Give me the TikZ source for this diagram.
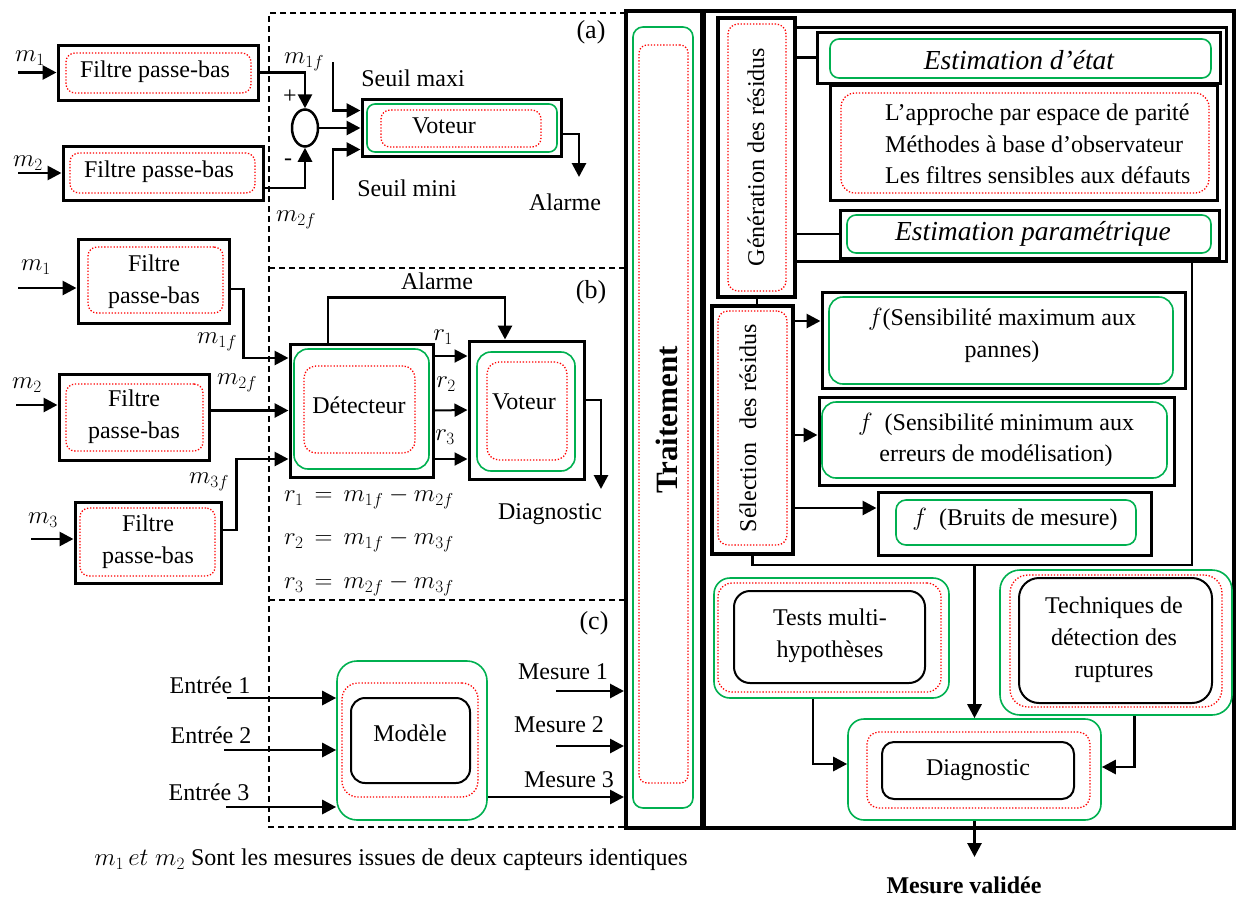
\documentclass[tikz,border=0pt]{standalone}
\usepackage{fontspec}
\setmainfont{Liberation Serif}
\usetikzlibrary{arrows.meta,shapes.geometric,fit,calc}
\definecolor{okgreen}{RGB}{0,176,80}
\definecolor{dotred}{RGB}{255,0,0}

\tikzset{
  every node/.style={font=\fontsize{24}{32}\selectfont, inner sep=0pt},
  blk/.style={draw, line width=3pt},
  heavy/.style={draw, line width=4pt},
  grn/.style={draw=okgreen, line width=1.6pt, rounded corners=#1},
  grn/.default=9pt,
  dotbox/.style={draw=dotred, line width=1.3pt, dash pattern=on 1.3pt off 1.8pt, rounded corners=#1},
  dotbox/.default=9pt,
  inbox/.style={draw, line width=2pt, rounded corners=#1},
  inbox/.default=14pt,
  zone/.style={draw, line width=1.5pt, dash pattern=on 6pt off 4pt},
  arr/.style={line width=2.8pt, -{Triangle[length=14pt,width=14pt]}},
  tarr/.style={line width=2pt, -{Triangle[length=13pt,width=13pt]}},
  link/.style={line width=2.8pt},
  tag/.style={font=\fontsize{26}{30}\selectfont},
  method/.style={font=\fontsize{27.5}{32}\selectfont\itshape},
}

\begin{document}
\begin{tikzpicture}[x=1pt, y=-1pt]
\useasboundingbox (0,0) rectangle (1237,898);

% ---------- dashed frame split into zones (a), (b), (c)
\draw[zone] (626,13) -| (269,827) -- (626,827);
\draw[zone] (269,268) -- (626,268);
\draw[zone] (269,600) -- (626,600);
\node[tag] (tagA) at (591,32) {(a)};
\node[tag] (tagB) at (591,292) {(b)};
\node[tag] (tagC) at (594,623) {(c)};

% ---------- (a) two filters, comparator and voter
\node[blk, fit={(58,45)(258,100)}] (fa1) {};
\node[dotbox, fit={(66,53)(251,93)}] (fa1r) {};
\node (fa1t) at (155,72) {Filtre passe-bas};
\node[blk, fit={(63,146)(263,200)}] (fa2) {};
\node[dotbox, fit={(70,153)(255,193)}] (fa2r) {};
\node (fa2t) at (159,172) {Filtre passe-bas};

\node (lma1) at (30,58) {$m_1$};
\node (lma2) at (28,163) {$m_2$};
\coordinate (ina1) at (18,72.5);
\coordinate (ina2) at (18,173);
\draw[arr] (ina1) -- (fa1.west);
\draw[arr] (ina2) -- (fa2.west);

\node[draw, ellipse, line width=2.5pt, minimum width=26pt, minimum height=37pt] (sum) at (305,128) {};
\node (plus) at (290,97) {+};
\node (minus) at (288,162) {-};
\node (lma1f) at (304,62) {$m_{1f}$};
\node (lma2f) at (296,220) {$m_{2f}$};

\node[blk, fit={(362,99)(561,156)}] (va) {};
\node[grn=8pt, fit={(367,104)(557,152)}] (vag) {};
\node[dotbox, fit={(381,110)(541,147)}] (var) {};
\node (vat) at (444,126) {Voteur};

\draw[arr] (fa1.east) -| (sum.north);
\draw[arr] ([yshift=-15pt]fa2.east) -| (sum.south);
\draw[arr] (sum.east) -- (sum.east -| va.west);
\coordinate (smaxTop) at (333,62);
\coordinate (sminBot) at (333,200);
\draw[arr] (smaxTop) |- ([yshift=17pt]va.west);
\draw[arr] (sminBot) |- ([yshift=-22pt]va.west);
\node (smaxt) at (413,78) {Seuil maxi};
\node (smint) at (407,188) {Seuil mini};
\coordinate (alarmA) at (579,177);
\draw[arr] ([yshift=-6.5pt]va.east) -| (alarmA);
\node (alarmAt) at (565,202) {Alarme};

% ---------- (b) three filters, detector and voter
\node[blk, fit={(78,239)(229,323)}] (fb1) {};
\node[dotbox, fit={(88,247)(223,313)}] (fb1r) {};
\node[align=center] (fb1t) at (154,282) {Filtre\\passe-bas};
\node[blk, fit={(59,374)(209,460)}] (fb2) {};
\node[dotbox, fit={(66,384)(203,451)}] (fb2r) {};
\node[align=center] (fb2t) at (134,417) {Filtre\\passe-bas};
\node[blk, fit={(75,502)(221,583)}] (fb3) {};
\node[dotbox, fit={(80,508)(215,576)}] (fb3r) {};
\node[align=center] (fb3t) at (148,542) {Filtre\\passe-bas};

\node (lmb1) at (36,267) {$m_1$};
\node (lmb2) at (27,385) {$m_2$};
\node (lmb3) at (43,520) {$m_3$};
\coordinate (inb1) at (18,288);
\coordinate (inb2) at (16,405);
\coordinate (inb3) at (31,539);
\draw[arr] (inb1) -- (inb1 -| fb1.west);
\draw[arr] (inb2) -- (inb2 -| fb2.west);
\draw[arr] (inb3) -- (inb3 -| fb3.west);

\node[blk, fit={(290,344)(433,477)}] (det) {};
\node[grn=14pt, fit={(294,349)(429,469)}] (detg) {};
\node[dotbox=12pt, fit={(304,366)(415,453)}] (detr) {};
\node (dett) at (359,405) {Détecteur};

\draw[arr] ([yshift=-8pt]fb1.east) -- ++(13,0) |- ([yshift=52.5pt]det.west);
\draw[arr] ([yshift=6.5pt]fb2.east) -- (det.west);
\draw[arr] ([yshift=12.5pt]fb3.east) -- ++(14,0) |- ([yshift=-48.5pt]det.west);
\node (lmb1f) at (217,342) {$m_{1f}$};
\node (lmb2f) at (237,383) {$m_{2f}$};
\node (lmb3f) at (209,482) {$m_{3f}$};

\node[blk, fit={(469,341)(584,479)}] (vb) {};
\node[grn=14pt, fit={(477,352)(575,471)}] (vbg) {};
\node[dotbox=12pt, fit={(487,362)(567,460)}] (vbr) {};
\node (vbt) at (524,402) {Voteur};

\draw[tarr] ([yshift=54.5pt]det.east) -- ([yshift=54pt]vb.west);
\draw[tarr] (det.east) -- (vb.west);
\draw[tarr] ([yshift=-48.5pt]det.east) -- ([yshift=-49pt]vb.west);
\node (r1) at (443,337) {$r_1$};
\node (r2) at (446,384) {$r_2$};
\node (r3) at (445,437) {$r_3$};

\draw[arr] ([xshift=-33.5pt]det.north) -- ++(0,-45) -| ([xshift=-21.5pt]vb.north);
\node (alarmBt) at (437,281) {Alarme};
\coordinate (diagB) at (601,489);
\draw[arr] ([yshift=10pt]vb.east) -| (diagB);
\node (diagBt) at (550,514) {Diagnostic};

\node[anchor=west] (eq1) at (284,498) {$r_1\,=\,m_{1f}-m_{2f}$};
\node[anchor=west] (eq2) at (284,541) {$r_2\,=\,m_{1f}-m_{3f}$};
\node[anchor=west] (eq3) at (284,585) {$r_3\,=\,m_{2f}-m_{3f}$};

% ---------- (c) model based redundancy
\node[grn=20pt, fit={(337,661)(487,820)}] (mg) {};
\node[dotbox=16pt, fit={(342,683)(478,797)}] (mr) {};
\node[inbox, fit={(351,698)(470,783)}] (mb) {};
\node (mt) at (410,733) {Modèle};

\coordinate (e1) at (227,698);
\coordinate (e2) at (224,750);
\coordinate (e3) at (226,807);
\draw[arr] (e1) -- (e1 -| mg.west);
\draw[arr] (e2) -- (e2 -| mg.west);
\draw[arr] (e3) -- (e3 -| mg.west);
\node (e1t) at (210,685) {Entrée 1};
\node (e2t) at (211,735) {Entrée 2};
\node (e3t) at (209,792) {Entrée 3};

% ---------- Traitement column
\node[heavy, fit={(626,10.5)(702,828)}] (trt) {};
\node[grn=10pt, fit={(633,27)(693,808)}] (trtg) {};
\node[dotbox=8pt, fit={(639,45)(688,783)}] (trtr) {};
\node[rotate=90, font=\fontsize{31}{36}\selectfont\bfseries] (trtt) at (667,420) {Traitement};

\coordinate (ms1) at (556,691);
\coordinate (ms2) at (556,746);
\path ([yshift=-56.5pt]mg.east) coordinate (ms3);
\draw[arr] (ms1) -- (ms1 -| trt.west);
\draw[arr] (ms2) -- (ms2 -| trt.west);
\draw[arr] (ms3) -- (ms3 -| trt.west);
\node (ms1t) at (563,672) {Mesure 1};
\node (ms2t) at (559,725) {Mesure 2};
\node (ms3t) at (569,780) {Mesure 3};

\node (note) at (391,860) {$m_1\,et\;m_2$ Sont les mesures issues de deux capteurs identiques};

% ---------- right block
\node[heavy, fit={(704,10.5)(1234,828)}] (rbox) {};

% residual generation
\node[blk, fit={(795,27)(1226,261)}] (genGrp) {};
\node[heavy, fill=white, fit={(718,18)(795,297)}] (gen) {};
\node[dotbox=10pt, fit={(728,24)(786,291)}] (genr) {};
\node[rotate=90] (gent) at (756,157) {Génération des résidus};

\node[blk, fit={(817,32.5)(1220,83)}] (estE) {};
\node[grn=9pt, fit={(830,39)(1211,78)}] (estEg) {};
\node[method] (estEt) at (1019,60) {Estimation d’état};

\node[blk, fit={(830,85)(1217,200)}] (lst) {};
\node[dotbox=14pt, fit={(841,93)(1209,193)}] (lstr) {};
\node[anchor=west, align=left, font=\fontsize{24}{31.5}\selectfont] (lstt) at (885,144)
  {L’approche par espace de parité\\Méthodes à base d’observateur\\Les filtres sensibles aux défauts};

\node[blk, fit={(840,210)(1219,258)}] (estP) {};
\node[grn=9pt, fit={(847,215)(1211,253)}] (estPg) {};
\node[method] (estPt) at (1033,234) {Estimation paramétrique};

\draw[link] (gen.east |- estE.west) -- (estE.west);
\draw[link] (gen.east |- estP.west) -- (estP.west);

% residual selection
\node[heavy, fit={(712,306)(793,554)}] (sel) {};
\node[dotbox=10pt, fit={(718,311)(787,545)}] (selr) {};
\node[rotate=90] (selt) at (748,428) {Sélection\hspace{0.3em} des résidus};
\draw[line width=2pt] (gen.south) -- (gen.south |- sel.north);

\coordinate (selBR) at (1192,565);
\coordinate (selTR) at (1192,261);
\draw[link] (sel.south) |- (selBR) -- (selTR);

\node[blk, fit={(822,292)(1185,388)}] (smx) {};
\node[grn=14pt, fit={(829,297)(1173,384)}] (smxg) {};
\node[align=center] (smxt) at (1002,335) {$f$(Sensibilité maximum aux\\pannes)};

\node[blk, fit={(819,397)(1174,485)}] (smn) {};
\node[grn=14pt, fit={(822,402)(1167,478)}] (smng) {};
\node[align=center, font=\fontsize{24}{31}\selectfont] (smnt) at (996,440) {$f$\ \ (Sensibilité minimum aux\\erreurs de modélisation)};

\node[blk, fit={(878,492)(1151,555)}] (brt) {};
\node[grn=10pt, fit={(896,500)(1136,545)}] (brtg) {};
\node (brtt) at (1015,519) {$f$\ \ (Bruits de mesure)};

\draw[arr] ([yshift=109pt]sel.east) -- ([yshift=19pt]smx.west);
\draw[arr] ([yshift=-5pt]sel.east) -- ([yshift=6pt]smn.west);
\draw[arr] ([yshift=-78pt]sel.east) -- ([yshift=15.5pt]brt.west);

% decision
\node[grn=16pt, fit={(714,578)(949,698)}] (tstg) {};
\node[dotbox=14pt, fit={(718,583)(941,692)}] (tstr) {};
\node[inbox=16pt, fit={(734,591)(925,683)}] (tst) {};
\node[align=center] (tstt) at (830,636) {Tests multi-\\hypothèses};

\node[grn=20pt, fit={(1000,570)(1232,715)}] (tecg) {};
\node[dotbox=18pt, fit={(1010,575)(1222,707)}] (tecr) {};
\node[inbox=20pt, fit={(1019,578)(1212,703)}] (tec) {};
\node[align=center] (tect) at (1114,640) {Techniques de\\détection des\\ruptures};

\node[grn=16pt, fit={(848,719)(1101,820)}] (dgg) {};
\node[dotbox=12pt, fit={(867,732)(1090,808)}] (dgr) {};
\node[inbox=12pt, fit={(882,742)(1074,799)}] (dg) {};
\node (dgt) at (978,770) {Diagnostic};

\draw[arr] (dgg.north |- selBR) -- (dgg.north);
\draw[arr] ([xshift=-18.5pt]tstg.south) |- ([yshift=5.5pt]dgg.west);
\draw[arr] ([xshift=18.5pt]tecg.south) |- ([yshift=2.5pt]dgg.east);
\coordinate (outD) at (974.5,857);
\draw[arr] (dgg.south) -- (outD);
\node[font=\fontsize{24}{30}\selectfont\bfseries] (outt) at (964,885) {Mesure validée};

\end{tikzpicture}
\end{document}
